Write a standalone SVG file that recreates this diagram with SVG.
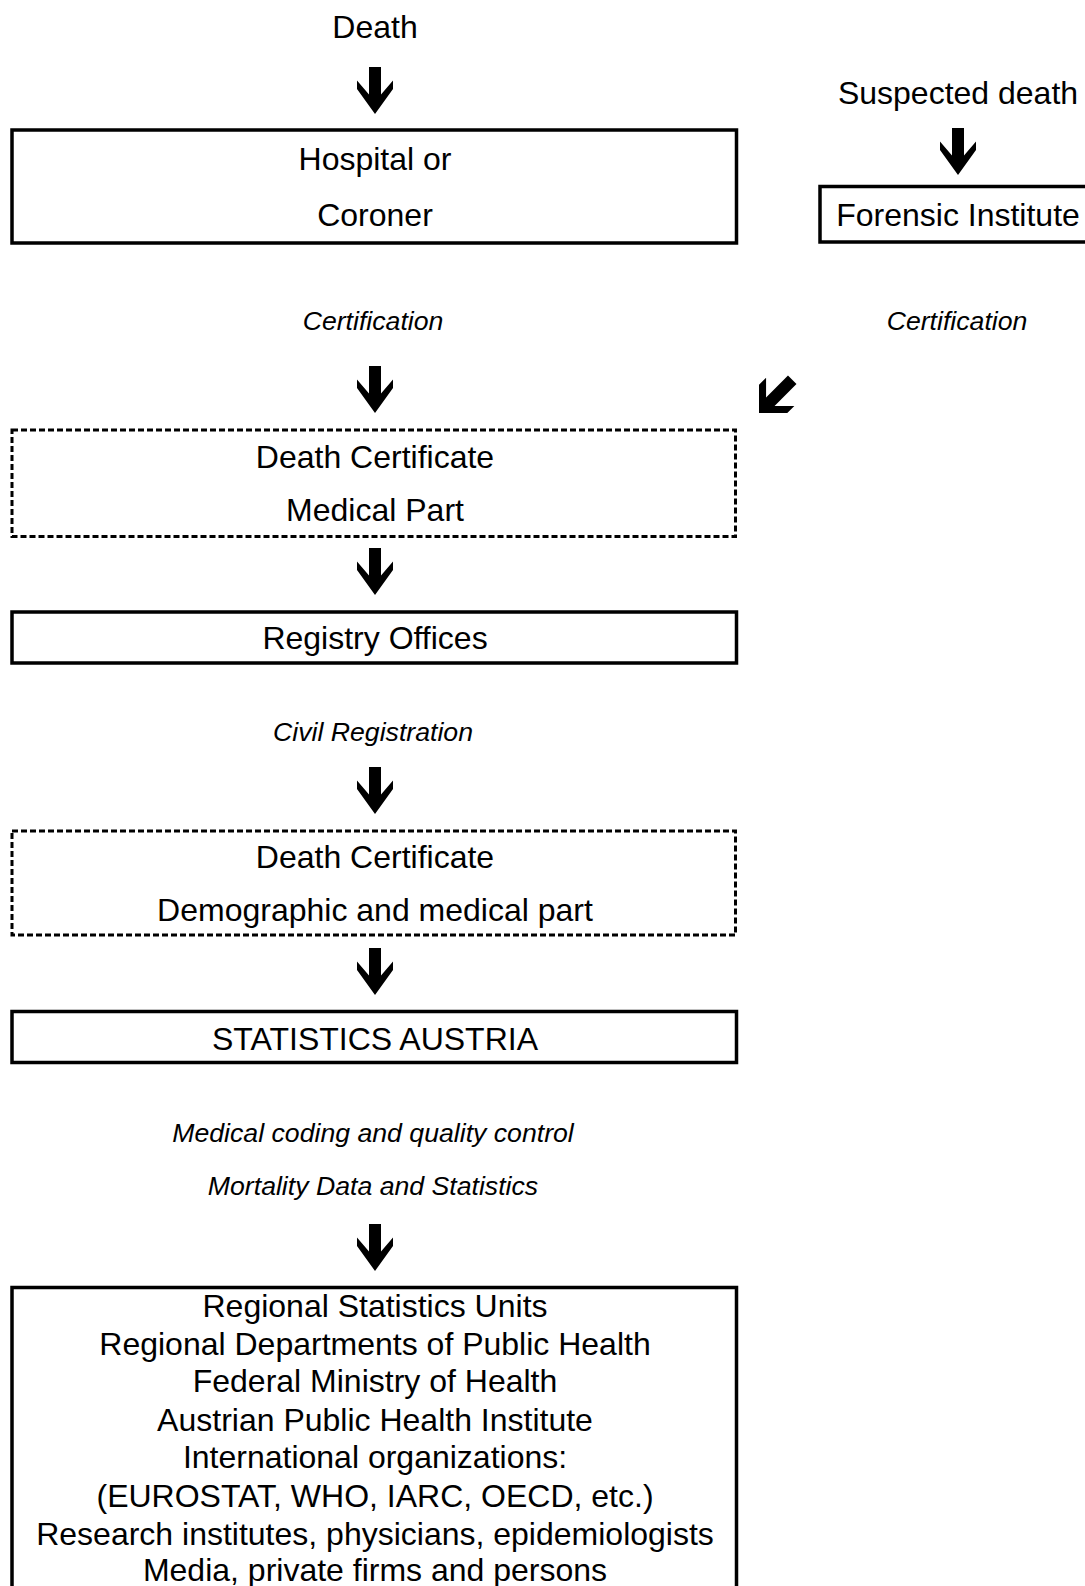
<svg xmlns="http://www.w3.org/2000/svg" xmlns:xlink="http://www.w3.org/1999/xlink" width="1085" height="1586" viewBox="0 0 1085 1586">
<style>
.t{font-family:"Liberation Sans",Arial,sans-serif;font-size:32px;fill:#000;text-anchor:middle}
.i{font-family:"Liberation Sans",Arial,sans-serif;font-size:26.67px;font-style:italic;fill:#000;text-anchor:middle}
.box{fill:#fff;stroke:#000;stroke-width:3.5}
.dash{fill:#fff;stroke:#000;stroke-width:3;stroke-dasharray:6 3}
.ar{fill:#000}
</style>
<defs>
<polygon id="dn" points="0,0 18,-25 18,-33.5 6,-19.5 6,-47 -6,-47 -6,-19.5 -18,-33.5 -18,-25"/>
<polygon id="dg" points="0,0 20,-20 20,-30 6,-16 6,-47 -6,-47 -6,-16 -20,-30 -20,-20"/>
</defs>
<rect width="1085" height="1586" fill="#fff"/>
<g id="connectors" class="ar">
<use xlink:href="#dn" x="375" y="114"/>
<use xlink:href="#dn" x="958" y="175"/>
<use xlink:href="#dn" x="375" y="413"/>
<use xlink:href="#dg" transform="translate(759,413) rotate(45)"/>
<use xlink:href="#dn" x="375" y="595"/>
<use xlink:href="#dn" x="375" y="814"/>
<use xlink:href="#dn" x="375" y="995"/>
<use xlink:href="#dn" x="375" y="1271"/>
</g>
<g id="death"><text class="t" x="375" y="38">Death</text></g>
<g id="suspected"><text class="t" x="958" y="104">Suspected death</text></g>
<g id="hospital">
<rect class="box" x="12" y="130" width="724.5" height="113"/>
<text class="t" x="375" y="170">Hospital or</text>
<text class="t" x="375" y="226">Coroner</text>
</g>
<g id="forensic">
<rect class="box" x="820" y="186.5" width="276" height="55.5"/>
<text class="t" x="958" y="226">Forensic Institute</text>
</g>
<g id="cert-left"><text class="i" x="373" y="329.5">Certification</text></g>
<g id="cert-right"><text class="i" x="957" y="329.5">Certification</text></g>
<g id="dc-medical">
<rect class="dash" x="12" y="430" width="723.5" height="106.5"/>
<text class="t" x="375" y="468">Death Certificate</text>
<text class="t" x="375" y="521">Medical Part</text>
</g>
<g id="registry">
<rect class="box" x="12" y="612" width="724.5" height="51"/>
<text class="t" x="375" y="649">Registry Offices</text>
</g>
<g id="civil"><text class="i" x="373" y="740.5">Civil Registration</text></g>
<g id="dc-full">
<rect class="dash" x="12" y="831" width="723.5" height="104"/>
<text class="t" x="375" y="867.5">Death Certificate</text>
<text class="t" x="375" y="921">Demographic and medical part</text>
</g>
<g id="statistics">
<rect class="box" x="12" y="1011.5" width="724.5" height="51"/>
<text class="t" x="375" y="1050">STATISTICS AUSTRIA</text>
</g>
<g id="coding">
<text class="i" x="373" y="1142">Medical coding and quality control</text>
<text class="i" x="373" y="1194.5">Mortality Data and Statistics</text>
</g>
<g id="users">
<rect class="box" x="12" y="1287.5" width="724.5" height="330"/>
<text class="t" x="375" y="1316.5">Regional Statistics Units</text>
<text class="t" x="375" y="1355">Regional Departments of Public Health</text>
<text class="t" x="375" y="1392">Federal Ministry of Health</text>
<text class="t" x="375" y="1431">Austrian Public Health Institute</text>
<text class="t" x="375" y="1468">International organizations:</text>
<text class="t" x="375" y="1506.5">(EUROSTAT, WHO, IARC, OECD, etc.)</text>
<text class="t" x="375" y="1545">Research institutes, physicians, epidemiologists</text>
<text class="t" x="375" y="1581">Media, private firms and persons</text>
</g>
</svg>
